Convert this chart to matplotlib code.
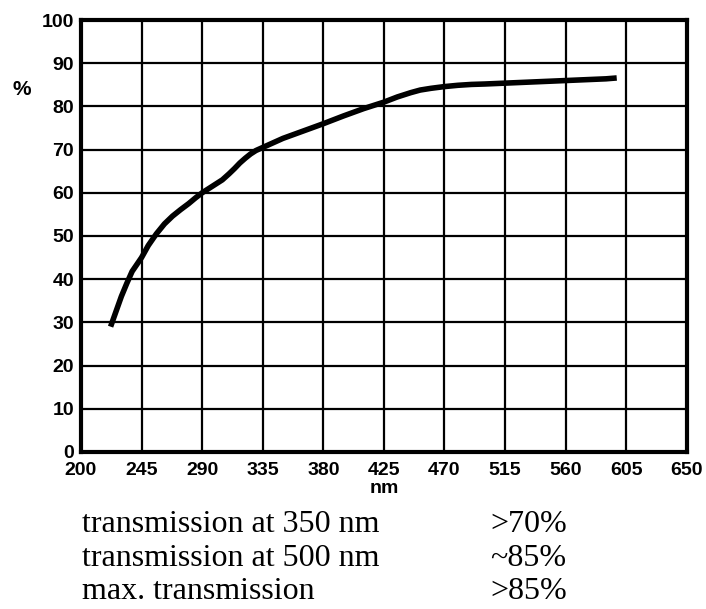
import matplotlib
matplotlib.use("Agg")
import matplotlib.pyplot as plt

# transmission curve
wavelength = [222, 226, 230, 234, 238, 245, 250, 256, 262, 268, 274, 280, 285,
              290, 295, 300, 305, 310, 314, 318, 322, 326, 330, 335, 340, 350,
              365, 380, 395, 410, 425, 435, 445, 452, 460, 470, 480, 490, 500,
              515, 530, 545, 560, 575, 590, 598]
transmission = [29, 32.5, 36, 39, 41.8, 45, 47.8, 50.5, 52.8, 54.6, 56.1, 57.5,
                58.8, 60, 61, 62, 63, 64.4, 65.6, 66.9, 68, 69, 69.8, 70.5, 71.2,
                72.6, 74.3, 76, 77.8, 79.5, 81, 82.2, 83.2, 83.8, 84.2, 84.6, 84.9,
                85.1, 85.2, 85.4, 85.6, 85.8, 86, 86.2, 86.4, 86.6]

x_ticks = [200, 245, 290, 335, 380, 425, 470, 515, 560, 605, 650]
y_ticks = [0, 10, 20, 30, 40, 50, 60, 70, 80, 90, 100]

spec_labels = ["transmission at 350 nm", "transmission at 500 nm", "max. transmission"]
spec_values = [">70%", "~85%", ">85%"]

fig = plt.figure(figsize=(7.06, 6.09), dpi=100)
ax = fig.add_axes([0.1147, 0.258, 0.858, 0.709])

ax.plot(wavelength, transmission, color="black", lw=4, solid_capstyle="butt")

ax.set_xlim(200, 650)
ax.set_ylim(0, 100)
ax.set_xticks(x_ticks)
ax.set_yticks(y_ticks)
ax.grid(True, color="black", lw=1.6)
ax.set_axisbelow(True)
ax.tick_params(length=0, labelsize=14)
ax.tick_params(axis="y", pad=5)
ax.tick_params(axis="x", pad=7)
for lab in ax.get_xticklabels() + ax.get_yticklabels():
    lab.set_family("Liberation Sans")
    lab.set_weight("bold")
for s in ax.spines.values():
    s.set_linewidth(3)

ax.set_xlabel("nm", family="Liberation Sans", weight="bold", fontsize=14, labelpad=1)
fig.text(0.031, 0.853, "%", family="Liberation Sans", weight="bold", fontsize=15,
         ha="center", va="center")

for i, (lab, val) in enumerate(zip(spec_labels, spec_values)):
    y = 0.138 - i * 0.055
    fig.text(0.116, y, lab, family="Liberation Serif", fontsize=23, va="center")
    fig.text(0.694, y, val, family="Liberation Serif", fontsize=23, va="center")

fig.savefig("out.png", dpi=100)
